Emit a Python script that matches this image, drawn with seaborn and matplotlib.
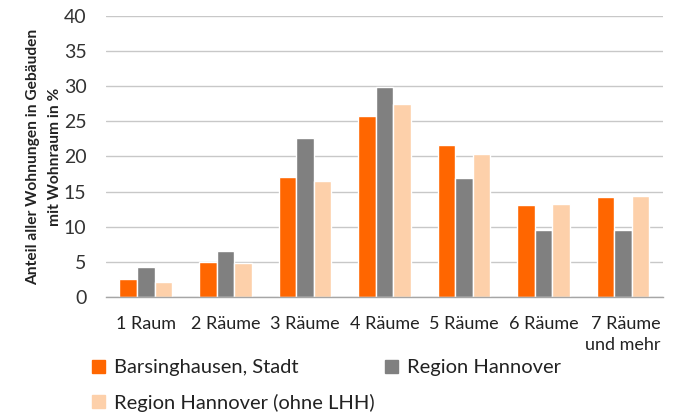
import numpy as np
import pandas as pd
import matplotlib
matplotlib.use("Agg")
import matplotlib.pyplot as plt
from matplotlib.patches import Patch
import seaborn as sns

# Anteil der Wohnungen nach Anzahl der Wohnräume (in %)
kategorien = ["1 Raum", "2 Räume", "3 Räume", "4 Räume", "5 Räume", "6 Räume", "7 Räume\nund mehr"]
gebiete = ["Barsinghausen, Stadt", "Region Hannover", "Region Hannover (ohne LHH)"]
barsinghausen = [2.6, 5.0, 17.1, 25.8, 21.6, 13.1, 14.2]
region_hannover = [4.2, 6.6, 22.6, 29.9, 17.0, 9.6, 9.6]
region_ohne_lhh = [2.2, 4.8, 16.5, 27.5, 20.4, 13.2, 14.3]
farben = ["#FF6600", "#808080", "#FDD0AA"]

df = pd.DataFrame({
    "Kategorie": kategorien * 3,
    "Gebiet": np.repeat(gebiete, len(kategorien)),
    "Anteil": barsinghausen + region_hannover + region_ohne_lhh,
})

sns.set_theme(style="white")
plt.rcParams["font.family"] = ["Lato", "DejaVu Sans"]

fig = plt.figure(figsize=(6.75, 4.16), dpi=100)
ax = fig.add_axes([0.157, 0.286, 0.825, 0.676])

sns.barplot(data=df, x="Kategorie", y="Anteil", hue="Gebiet", order=kategorien,
            hue_order=gebiete, palette=farben, saturation=1, width=0.66,
            errorbar=None, legend=False, ax=ax)

ax.set_ylim(0, 40)
ax.set_xlim(-0.5, len(kategorien) - 0.5)
ax.set_yticks(np.arange(0, 41, 5))
ax.yaxis.grid(True, color="#C8C8C8", linewidth=1)
ax.set_axisbelow(True)
for side in ["top", "right", "left"]:
    ax.spines[side].set_visible(False)
ax.spines["bottom"].set_color("#A6A6A6")
ax.spines["bottom"].set_linewidth(1)

ax.tick_params(axis="y", length=0, labelsize=14, labelcolor="#333333", pad=14)
ax.tick_params(axis="x", which="major", length=0, labelsize=13, labelcolor="#222222", pad=14)
ax.set_xticks(np.arange(-0.5, len(kategorien)), minor=True)
ax.tick_params(axis="x", which="minor", length=5, color="#A6A6A6", width=1)
for lbl in ax.get_xticklabels():
    if "\n" in lbl.get_text():
        lbl.set_multialignment("right")
        lbl.set_linespacing(1.35)

ax.set_xlabel("")
ax.set_ylabel("Anteil aller Wohnungen in Gebäuden\nmit Wohnraum in %", fontsize=11.2,
              fontweight="bold", color="#222222", labelpad=1, linespacing=1.75)

handles = [Patch(color=farben[0], label=gebiete[0]),
           Patch(color=farben[2], label=gebiete[2]),
           Patch(color=farben[1], label=gebiete[1])]
fig.legend(handles=handles, ncol=2, loc="upper left", bbox_to_anchor=(0.136, 0.136),
           frameon=False, fontsize=14.5, handlelength=0.65, handleheight=0.65,
           handletextpad=0.45, columnspacing=0.5, labelspacing=0.85,
           labelcolor="#222222", borderaxespad=0, borderpad=0)

fig.savefig("out.png", dpi=100)
